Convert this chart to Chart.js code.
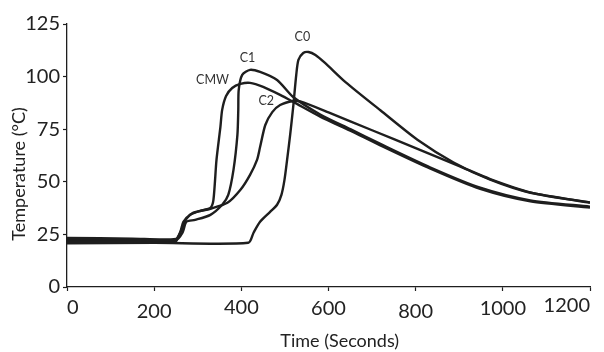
<!DOCTYPE html>
<html>
<head>
<meta charset="utf-8">
<script src="https://cdn.jsdelivr.net/npm/chart.js@4.4.1/dist/chart.umd.min.js"></script>
<style>
  body { margin: 0; background: #fff; }
  canvas { display: block; }
</style>
</head>
<body>
<canvas id="tempchart" width="604" height="352"></canvas>
<script>
// heating curves, time in seconds / temperature in °C
const cmwTime = [0, 150, 250, 260, 267, 283, 306, 329, 336, 343, 352, 356, 365, 379, 398, 420, 450, 489, 519, 581, 650, 719, 834, 948, 1063, 1200];
const cmwTemp = [23.3, 23.0, 22.9, 26.2, 31.0, 34.3, 36.2, 37.6, 41.4, 60.4, 76.1, 84.2, 90.8, 94.6, 96.5, 97.0, 95.1, 91.3, 88.0, 81.0, 74.3, 67.3, 56.2, 46.6, 40.7, 37.8];

const c1Time = [0, 150, 250, 265, 274, 294, 329, 356, 370, 382, 391, 393, 394, 402, 420, 443, 482, 519, 581, 650, 719, 834, 948, 1063, 1200];
const c1Temp = [22.6, 22.5, 22.3, 25.8, 31.0, 31.9, 34.3, 39.1, 43.8, 55.7, 72.3, 84.2, 93.7, 100.8, 103.2, 102.2, 98.4, 90.3, 82.0, 75.0, 68.0, 56.8, 47.2, 41.2, 38.2];

const c2Time = [0, 150, 250, 255, 265, 274, 290, 329, 368, 398, 420, 436, 443, 455, 471, 489, 519, 535, 600, 700, 800, 900, 971, 1063, 1200];
const c2Temp = [22.0, 21.9, 21.8, 23.9, 28.1, 32.4, 35.3, 37.2, 40.0, 46.2, 53.3, 60.4, 66.5, 77.0, 83.1, 86.5, 88.4, 88.2, 83.0, 74.5, 66.0, 57.5, 51.3, 45.0, 40.0];

const c0Time = [0, 200, 416, 428, 443, 466, 482, 492, 499, 505, 512, 519, 526, 531, 542, 554, 570, 592, 639, 719, 804, 887, 971, 1063, 1200];
const c0Temp = [20.8, 21.0, 21.0, 25.8, 31.0, 35.7, 39.1, 43.8, 50.9, 60.4, 72.3, 85.6, 100.8, 107.9, 111.2, 111.7, 110.3, 106.5, 97.4, 84.0, 70.0, 59.2, 51.0, 44.8, 40.2];

// curve names written next to the peaks
const tagText = ['C0', 'C1', 'CMW', 'C2'];
const tagTime = [540, 414, 334, 457];
const tagTemp = [118.7, 108.8, 98.4, 88.4];

const xTicks = [0, 200, 400, 600, 800, 1000, 1200];
const yTicks = [0, 25, 50, 75, 100, 125];

const FONT = 'Lato, "Open Sans", sans-serif';
const INK = '#1e1e1e';

// the time labels sit at slightly uneven heights
const xTickLead = [1.44, 1.9, 1.44, 1.55, 1.9, 1.55, 1.27];

function pairs(xs, ys) {
    return xs.map((x, i) => ({ x: x, y: ys[i] }));
}

function curve(label, xs, ys) {
    return {
        label: label,
        data: pairs(xs, ys),
        showLine: true,
        borderColor: INK,
        borderWidth: 2.4,
        pointRadius: 0,
        tension: 0.25,
        fill: false,
    };
}

const curveTags = {
    id: 'curveTags',
    afterDatasetsDraw(chart) {
        const { ctx, scales } = chart;
        ctx.save();
        ctx.font = '12.5px ' + FONT;
        ctx.fillStyle = '#333';
        ctx.textAlign = 'center';
        ctx.textBaseline = 'middle';
        tagText.forEach((t, i) => {
            ctx.fillText(t, scales.x.getPixelForValue(tagTime[i]), scales.y.getPixelForValue(tagTemp[i]));
        });
        ctx.restore();
    }
};

const ctx = document.getElementById('tempchart').getContext('2d');

const myChart = new Chart(ctx, {
    type: 'scatter',
    data: {
        datasets: [
            curve('CMW', cmwTime, cmwTemp),
            curve('C1', c1Time, c1Temp),
            curve('C2', c2Time, c2Temp),
            curve('C0', c0Time, c0Temp),
        ],
    },
    options: {
        responsive: false,
        animation: false,
        layout: {
            padding: { left: 0, top: 24, right: 14, bottom: 0 }
        },
        plugins: {
            legend: { display: false },
            tooltip: { enabled: false },
        },
        scales: {
            x: {
                type: 'linear',
                min: 0,
                max: 1200,
                afterBuildTicks: (scale) => { scale.ticks = xTicks.map(v => ({ value: v })); },
                afterFit: (scale) => { scale.height = 65; },
                border: { display: true, color: INK, width: 1.3 },
                grid: { drawOnChartArea: false, tickLength: 4, tickColor: INK, tickWidth: 1.2 },
                ticks: {
                    autoSkip: false,
                    maxRotation: 0,
                    align: 'inner',
                    padding: 2,
                    color: '#222',
                    callback: (v) => String(v),
                    font: (c) => ({ family: FONT, size: 20, lineHeight: xTickLead[c.index] || 1.3 }),
                },
                title: {
                    display: true,
                    text: '\u00a0\u00a0\u00a0\u00a0\u00a0Time (Seconds)',
                    color: '#222',
                    font: { family: FONT, size: 18 },
                    padding: { top: 0, bottom: 0 },
                },
            },
            y: {
                type: 'linear',
                min: 0,
                max: 125,
                afterBuildTicks: (scale) => { scale.ticks = yTicks.map(v => ({ value: v })); },
                afterFit: (scale) => { scale.width = 67; },
                border: { display: true, color: INK, width: 1.3 },
                grid: { drawOnChartArea: false, tickLength: 4, tickColor: INK, tickWidth: 1.2 },
                ticks: {
                    padding: 3,
                    color: '#222',
                    font: { family: FONT, size: 20 },
                },
                title: {
                    display: true,
                    text: 'Temperature (°C)\u00a0\u00a0\u00a0\u00a0\u00a0\u00a0\u00a0\u00a0',
                    color: '#222',
                    font: { family: FONT, size: 18 },
                    padding: { top: 8, bottom: 0 },
                },
            },
        },
    },
    plugins: [curveTags],
});
</script>
</body>
</html>
